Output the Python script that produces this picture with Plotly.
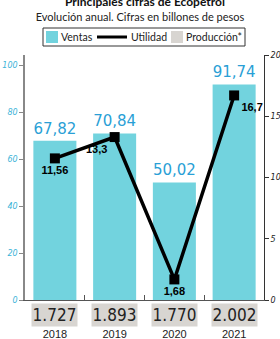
import plotly.graph_objects as go

years = ["2018", "2019", "2020", "2021"]
ventas = [67.82, 70.84, 50.02, 91.74]
utilidad = [11.56, 13.3, 1.68, 16.7]
utilidad_txt = ["11,56", "13,3", "1,68", "16,7"]
produccion = ["1.727", "1.893", "1.770", "2.002"]
series_names = ["Ventas", "Utilidad", "Producción*"]
left_ticks = [0, 20, 40, 60, 80, 100]
right_ticks = [0, 5, 10, 15, 20]

def fmt(v, d):
    return f"{v:.{d}f}".replace(".", ",")

BAR = "#72d3de"
BLUE = "#2a9fd6"
GREY = "#d8d5d1"
COND = "Liberation Sans Narrow, DejaVu Sans Condensed, Arial Narrow, sans-serif"

# plot area in pixels: x 25..264, y 55..300
L, R, T, B = 25, 264, 55, 300
def px(x):
    return (x - L) / (R - L)
def py(y):
    return (B - y) / (B - T)

fig = go.Figure()
fig.add_trace(go.Bar(
    x=years, y=ventas, name=series_names[0], marker=dict(color=BAR, line=dict(width=0)),
    width=0.72, text=[fmt(v, 2) for v in ventas], textposition="outside",
    textfont=dict(family=COND, size=24, color=BLUE), cliponaxis=False,
    yaxis="y"))
fig.add_trace(go.Scatter(
    x=years, y=utilidad, name=series_names[1], mode="lines+markers+text",
    line=dict(color="black", width=3.5),
    marker=dict(symbol="square", size=10, color="black"),
    text=["<b>" + t + "</b>" for t in utilidad_txt],
    textposition=["bottom center", "bottom left", "bottom center", "bottom right"],
    textfont=dict(family="Liberation Sans, Arial, sans-serif", size=11, color="black"),
    cliponaxis=False, yaxis="y2"))

for i, p in enumerate(produccion):
    fig.add_annotation(
        x=i, xref="x", y=-0.012, yref="paper", yanchor="top",
        text=p, showarrow=False, width=43, height=20, bgcolor=GREY,
        font=dict(family=COND, size=17, color="#222222"))

# top title (cut at the page edge as in the source)
fig.add_annotation(
    x=0.5, xref="paper", y=py(1), yref="paper", yanchor="middle",
    text="<b>Principales cifras de Ecopetrol</b>", showarrow=False,
    font=dict(family="Lato, sans-serif", size=12, color="#111111"))

# legend box
LEG_FONT = dict(family="Lato, sans-serif", size=10.5, color="#222222")
fig.add_shape(type="rect", xref="paper", yref="paper",
              x0=px(43), x1=px(245), y0=py(46), y1=py(28),
              line=dict(color="#333333", width=1), fillcolor="white")
fig.add_shape(type="rect", xref="paper", yref="paper",
              x0=px(46), x1=px(58), y0=py(43), y1=py(31),
              line=dict(width=0), fillcolor=BAR)
fig.add_annotation(x=px(59), xref="paper", y=py(37), yref="paper", xanchor="left",
                   yanchor="middle", text=series_names[0], showarrow=False, font=LEG_FONT)
fig.add_shape(type="line", xref="paper", yref="paper",
              x0=px(97), x1=px(127), y0=py(37), y1=py(37),
              line=dict(color="black", width=3))
fig.add_annotation(x=px(129), xref="paper", y=py(37), yref="paper", xanchor="left",
                   yanchor="middle", text=series_names[1], showarrow=False, font=LEG_FONT)
fig.add_shape(type="rect", xref="paper", yref="paper",
              x0=px(171), x1=px(183), y0=py(43), y1=py(31),
              line=dict(width=0), fillcolor=GREY)
fig.add_annotation(x=px(184), xref="paper", y=py(37), yref="paper", xanchor="left",
                   yanchor="middle", text=series_names[2], showarrow=False, font=LEG_FONT)

fig.update_layout(
    width=280, height=339,
    margin=dict(l=L, r=280 - R, t=T, b=339 - B, autoexpand=False),
    paper_bgcolor="white", plot_bgcolor="white",
    showlegend=False,
    title=dict(text="Evolución anual. Cifras en billones de pesos", x=0.5, xanchor="center",
               y=1 - 17.5 / 339, yanchor="middle", yref="container",
               font=dict(family="Lato, sans-serif", size=11, color="#222222")),
    xaxis=dict(type="category", showline=True, linecolor="#555555", linewidth=1, ticks="inside",
               tickson="boundaries", ticklen=5, tickcolor="#555555",
               ticklabelstandoff=24, automargin=False,
               tickfont=dict(family="Liberation Sans, Arial, sans-serif", size=11, color="#222222"),
               range=[-0.5, 3.5], fixedrange=True),
    yaxis=dict(range=[0, 104.3], tickvals=left_ticks, showgrid=False, zeroline=False,
               showline=True, linecolor="#888888", linewidth=1.5, ticks="outside",
               ticklen=4, tickcolor="#888888", automargin=False,
               tickfont=dict(family="DejaVu Sans, sans-serif", size=8, color="#3bb4d8",
                             style="italic")),
    yaxis2=dict(range=[0, 20], tickvals=right_ticks, overlaying="y", side="right",
                showgrid=False, zeroline=False, showline=True, linecolor="#333333",
                linewidth=1, ticks="outside", ticklen=4, tickcolor="#333333",
                automargin=False,
                tickfont=dict(family="DejaVu Sans, sans-serif", size=8, color="#222222",
                              style="italic")),
)

fig.write_html("out.html", config={"displayModeBar": False},
               post_script="document.body.style.margin='0';document.body.style.overflow='hidden';")
